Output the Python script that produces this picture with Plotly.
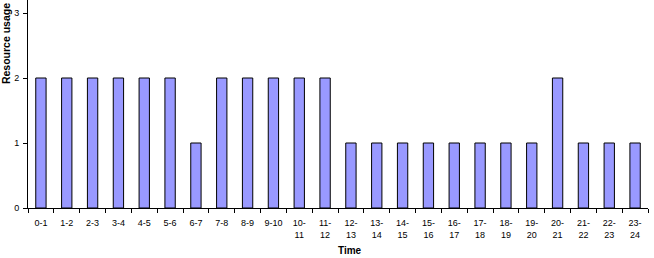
import plotly.graph_objects as go

categories = ["0-1", "1-2", "2-3", "3-4", "4-5", "5-6", "6-7", "7-8", "8-9", "9-10",
              "10-<br>11", "11-<br>12", "12-<br>13", "13-<br>14", "14-<br>15", "15-<br>16",
              "16-<br>17", "17-<br>18", "18-<br>19", "19-<br>20", "20-<br>21", "21-<br>22",
              "22-<br>23", "23-<br>24"]
values = [2, 2, 2, 2, 2, 2, 1, 2, 2, 2, 2, 2, 1, 1, 1, 1, 1, 1, 1, 1, 2, 1, 1, 1]
y_ticks = [0, 1, 2, 3]
x_title = "Time"
y_title = "Resource usage"

fig = go.Figure(go.Bar(
    x=categories, y=values,
    marker=dict(color="#9999FF", line=dict(color="black", width=1)),
))

font = dict(family="Liberation Sans, Arial, sans-serif", size=9, color="black")
fig.update_layout(
    width=654, height=258,
    margin=dict(l=28, r=6, t=0, b=50),
    plot_bgcolor="white", paper_bgcolor="white",
    bargap=0.6, showlegend=False, font=font,
)
fig.update_xaxes(
    type="category", showline=True, linecolor="black", linewidth=1,
    ticks="outside", ticklen=4, tickcolor="black", tickson="boundaries",
    showgrid=False, tickangle=0, ticklabelstandoff=6,
)
fig.update_yaxes(
    range=[0, 3.2], tickvals=y_ticks, showline=True, linecolor="black", linewidth=1,
    ticks="outside", ticklen=4, tickcolor="black", showgrid=False, zeroline=False,
    ticklabelstandoff=2,
)
fig.add_annotation(
    text="<b>" + x_title + "</b>", xref="paper", yref="paper", x=0.519, y=0,
    xanchor="center", yanchor="middle", yshift=-42, showarrow=False,
    font=dict(size=10),
)
fig.add_annotation(
    text="<b>" + y_title + "</b>", xref="paper", yref="paper", x=0, y=0.788,
    xanchor="center", yanchor="middle", xshift=-22, textangle=-90, showarrow=False,
    font=dict(size=10.5),
)

fig.write_html("out.html")
